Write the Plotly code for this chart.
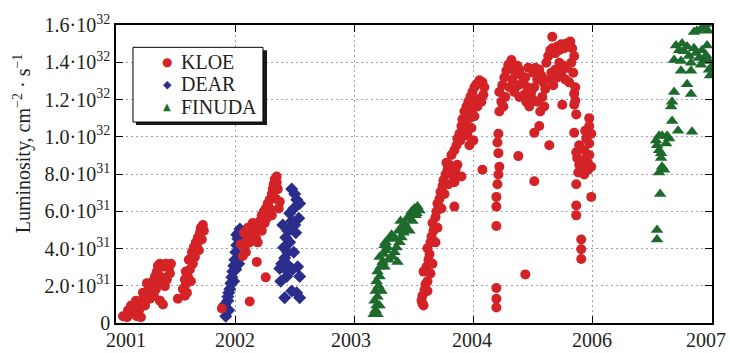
import plotly.graph_objects as go

# Time coordinate along the run axis (0 = start of 2001, 5 = right end), luminosity in 1e31 cm^-2 s^-1
axis_ticks = [0, 1, 2, 3, 4, 5]
axis_years = ["2001", "2002", "2003", "2004", "2006", "2007"]

lum_ticks = [0, 2, 4, 6, 8, 10, 12, 14, 16]
lum_labels = ["0", "2.0·10<sup>31</sup>", "4.0·10<sup>31</sup>", "6.0·10<sup>31</sup>",
              "8.0·10<sup>31</sup>", "1.0·10<sup>32</sup>", "1.2·10<sup>32</sup>",
              "1.4·10<sup>32</sup>", "1.6·10<sup>32</sup>"]

kloe_t = [
    # 2001
    0.092, 0.117, 0.142, 0.101, 0.159, 0.176, 0.193, 0.201, 0.218, 0.235, 0.251, 0.268, 0.243, 0.209,
    0.126, 0.168, 0.226, 0.059, 0.260, 0.276,
    0.285, 0.302, 0.293, 0.310, 0.327, 0.343, 0.352, 0.369, 0.394, 0.419, 0.444, 0.452, 0.427, 0.385,
    0.360, 0.335, 0.318, 0.369, 0.394, 0.410, 0.461,
    0.519, 0.561, 0.595, 0.586, 0.603, 0.620, 0.611, 0.637, 0.653, 0.670, 0.687, 0.704, 0.712, 0.729,
    0.737, 0.695, 0.662, 0.645, 0.628, 0.578, 0.678, 0.720, 0.586, 0.578,
    # 2002
    0.888, 1.181, 1.256, 1.122, 1.064, 1.080, 1.097, 1.114, 1.139, 1.164, 1.189, 1.072, 1.122, 1.173,
    1.206, 1.223, 1.240, 1.256, 1.273, 1.290, 1.307, 1.315, 1.323, 1.332, 1.348, 1.357, 1.340, 1.365,
    1.307, 1.248, 1.223, 1.189, 1.106, 1.147, 1.265, 1.290, 1.374, 1.089, 1.047, 1.348,
    # 2003
    2.563, 2.571, 2.588, 2.596, 2.613, 2.580, 2.605, 2.621, 2.630, 2.613, 2.638, 2.647, 2.663, 2.655,
    2.680, 2.688, 2.697, 2.714, 2.722, 2.739, 2.747, 2.764, 2.781, 2.797, 2.772, 2.814, 2.831, 2.789,
    2.756, 2.839, 2.730, 2.697, 2.680, 2.655, 2.638, 2.613, 2.580, 2.848, 2.839, 2.571, 2.814, 2.839,
    2.898, 2.864,
    2.856, 2.864, 2.881, 2.898, 2.906, 2.923, 2.940, 2.956, 2.973, 2.990, 3.007, 3.023, 3.049, 3.074,
    3.090, 3.082, 3.049, 3.015, 2.982, 2.965, 2.931, 2.906, 2.948, 2.982, 3.007, 3.032, 3.065, 2.965,
    2.998, 2.889, 3.074,
    # 2004
    3.208, 3.200, 3.208, 3.216, 3.208, 3.200, 3.191, 3.191, 3.191, 3.191, 3.191, 3.191, 3.375, 3.434,
    3.216, 3.233, 3.216, 3.241, 3.258, 3.275, 3.291, 3.317, 3.333, 3.350, 3.367, 3.384, 3.400, 3.417,
    3.434, 3.451, 3.425, 3.384, 3.342, 3.300, 3.266, 3.250, 3.325, 3.375, 3.442, 3.467, 3.484, 3.509,
    3.534, 3.518, 3.501, 3.551, 3.568, 3.585, 3.601, 3.576, 3.534, 3.593, 3.559, 3.492, 3.459,
    # 2005
    3.610, 3.626, 3.643, 3.660, 3.685, 3.702, 3.719, 3.735, 3.760, 3.777, 3.794, 3.811, 3.827, 3.844,
    3.819, 3.786, 3.752, 3.719, 3.685, 3.652, 3.635, 3.668, 3.702, 3.735, 3.769, 3.802, 3.836, 3.853,
    3.660,
    3.744, 3.551, 3.509, 3.635, 3.509,
    3.844, 3.844, 3.861, 3.844, 3.970, 3.970, 3.945, 3.861, 3.869, 3.911, 3.953, 3.987, 3.861, 3.987,
    3.861, 3.861, 3.903, 3.903, 3.903, 3.886, 3.928, 3.970, 3.920, 3.886, 3.961, 3.936, 3.987, 3.970,
    3.878, 3.928, 3.853,
]
kloe_lum = [
    # 2001
    0.31, 0.47, 0.57, 0.68, 0.78, 0.36, 0.68, 0.99, 1.20, 1.35, 1.56, 1.77, 0.94, 0.31,
    0.94, 1.20, 1.62, 0.36, 2.14, 1.98,
    1.30, 1.62, 1.93, 2.24, 2.50, 2.76, 3.07, 3.18, 3.02, 3.18, 2.97, 2.66, 2.34, 2.45,
    2.14, 1.82, 1.46, 1.20, 0.99, 1.98, 3.18,
    1.30, 1.82, 1.62, 2.08, 2.50, 2.87, 3.39, 3.80, 4.06, 4.33, 4.59, 4.85, 5.11, 5.26,
    4.95, 3.91, 3.54, 3.18, 2.24, 2.34, 4.22, 4.48, 2.76, 1.46,
    # 2002
    0.78, 3.28, 2.45, 1.15, 3.60, 4.06, 4.43, 4.74, 4.95, 5.05, 5.16, 4.85, 4.33, 4.59,
    5.47, 5.78, 5.99, 6.15, 6.41, 6.62, 6.93, 7.19, 7.45, 7.71, 7.56, 7.19, 6.67, 6.15,
    5.78, 5.37, 4.95, 4.33, 5.11, 5.37, 5.63, 6.15, 6.51, 3.80, 4.22, 7.87,
    # 2003
    1.20, 1.46, 1.77, 2.08, 2.24, 2.76, 3.02, 3.39, 3.70, 4.01, 4.33, 4.64, 4.95, 5.37,
    5.68, 5.99, 6.41, 6.67, 7.03, 7.35, 7.66, 7.97, 8.23, 8.49, 8.60, 8.08, 7.87, 7.45,
    6.93, 7.56, 6.15, 5.11, 4.33, 3.18, 2.66, 1.72, 0.94, 8.23, 6.25, 1.04, 9.02, 9.28,
    7.87, 8.49,
    9.54, 9.90, 10.16, 10.58, 10.94, 11.36, 11.62, 11.88, 12.14, 12.40, 12.66, 12.82, 13.03, 12.92,
    12.66, 12.25, 12.04, 11.72, 11.36, 11.00, 10.68, 10.32, 10.06, 10.47, 11.10, 11.62, 11.88, 9.54,
    9.80, 9.80, 8.23,
    # 2004
    10.16, 9.69, 9.12, 8.39, 7.97, 7.45, 6.77, 6.25, 5.21, 1.88, 1.30, 0.83, 8.96, 2.61,
    11.36, 11.88, 12.40, 12.77, 13.18, 13.55, 13.86, 14.12, 13.70, 13.44, 13.81, 13.60, 13.29, 12.92,
    13.18, 12.66, 12.25, 12.14, 12.40, 12.66, 12.14, 11.62, 13.08, 12.77, 11.88, 11.62, 12.40, 12.66,
    13.08, 13.70, 13.44, 13.60, 13.29, 12.92, 12.56, 12.14, 11.88, 11.62, 11.36, 12.04, 13.70,
    # 2005
    13.97, 14.33, 14.64, 14.75, 14.49, 14.85, 14.64, 14.96, 14.75, 15.01, 14.85, 15.11, 14.75, 14.33,
    13.97, 13.70, 13.81, 13.97, 13.60, 13.44, 13.08, 12.77, 13.18, 13.39, 13.08, 12.92, 13.44, 12.66,
    15.37,
    11.72, 10.58, 10.21, 9.54, 7.61,
    12.30, 11.72, 11.20, 10.21, 11.00, 10.58, 9.90, 9.17, 8.86, 8.34, 8.65, 8.39, 7.45, 6.77,
    6.31, 5.78, 4.48, 3.96, 3.44, 9.54, 9.28, 9.02, 8.75, 8.49, 8.23, 10.32, 10.16, 9.64,
    8.08, 7.97, 11.93,
]

dear_t = [
    0.921, 0.930, 0.938, 0.946, 0.955, 0.938, 0.963, 0.972, 0.980, 0.988, 0.997, 1.005, 1.013, 1.022,
    1.030, 1.039, 1.013, 1.030, 1.039, 1.005, 0.988, 0.913, 0.946,
    1.474, 1.499, 1.516, 1.491, 1.457, 1.474, 1.499, 1.441, 1.424, 1.457, 1.407, 1.441, 1.415, 1.390,
    1.449, 1.482, 1.524, 1.508, 1.533, 1.541, 1.432, 1.382, 1.541, 1.474, 1.415, 1.516, 1.541, 1.399,
    1.466, 1.491, 1.424, 1.374,
]
dear_lum = [
    0.36, 0.78, 1.20, 1.62, 1.82, 1.41, 2.14, 2.45, 2.76, 3.07, 3.39, 3.80, 4.17, 4.53,
    4.85, 5.05, 4.74, 3.18, 3.54, 2.87, 2.24, 0.99, 0.68,
    7.19, 6.93, 6.62, 6.15, 5.89, 5.47, 5.26, 4.95, 4.59, 4.33, 4.06, 3.80, 3.49, 3.18,
    3.07, 2.87, 3.02, 4.85, 5.63, 6.41, 2.50, 2.24, 2.50, 1.72, 1.35, 1.62, 1.35, 5.26,
    5.05, 3.80, 2.87, 2.92,
]

finuda_t = [
    # 2003
    2.161, 2.178, 2.194, 2.186, 2.169, 2.194, 2.178, 2.203, 2.186, 2.211, 2.194, 2.219, 2.236, 2.211,
    2.245, 2.261, 2.278, 2.261, 2.295, 2.312, 2.286, 2.320, 2.337, 2.362, 2.353, 2.379, 2.395, 2.370,
    2.404, 2.420, 2.446, 2.462, 2.479, 2.504, 2.529, 2.546, 2.513, 2.487, 2.437, 2.412, 2.387, 2.253,
    2.228, 2.211, 2.253, 2.345, 2.462, 2.521,
    # 2006-2007
    4.539, 4.539, 4.565, 4.556, 4.531, 4.539, 4.556, 4.573, 4.581, 4.598, 4.640, 4.615, 4.581, 4.556,
    4.623, 4.573, 4.665, 4.657, 4.665, 4.682, 4.715, 4.832, 4.740, 4.791, 4.824, 4.824,
    4.698, 4.724, 4.749, 4.765, 4.791, 4.807, 4.849, 4.866, 4.891, 4.916, 4.950, 4.958, 4.975, 4.975,
    4.682, 4.740, 4.824, 4.908, 4.933,
    4.849, 4.874, 4.908, 4.933, 4.950, 4.966, 4.992, 4.983,
]
finuda_lum = [
    # 2003
    0.47, 0.68, 0.47, 0.94, 1.20, 1.41, 1.72, 1.98, 2.24, 2.50, 2.76, 3.02, 3.28, 3.54,
    3.70, 3.91, 4.06, 4.33, 4.53, 4.74, 3.39, 3.54, 3.80, 3.28, 4.06, 4.33, 4.59, 4.95,
    5.16, 5.37, 5.63, 5.78, 5.99, 6.15, 6.25, 6.04, 5.78, 5.47, 5.11, 4.85, 5.47, 3.02,
    1.72, 0.94, 4.17, 4.53, 4.95, 5.89,
    # 2006-2007
    5.00, 4.48, 6.93, 8.08, 9.80, 9.54, 9.28, 8.86, 8.39, 8.23, 9.90, 9.64, 10.06, 10.06,
    10.06, 9.12, 10.84, 11.62, 11.88, 12.40, 10.32, 10.27, 13.55, 12.82, 13.55, 12.30,
    14.90, 14.64, 15.01, 14.59, 14.85, 14.33, 14.75, 14.49, 14.23, 14.64, 14.38, 14.90, 14.07, 13.60,
    14.12, 14.07, 13.97, 13.86, 14.12,
    15.63, 15.69, 15.79, 15.89, 16.05, 15.69, 13.70, 13.29,
]

RED = "#d42326"
BLUE = "#2b2d8c"
GREEN = "#1e6a2c"
SERIF = "Liberation Serif, Times New Roman, serif"
INK = "#231f20"

fig = go.Figure()
fig.add_trace(go.Scatter(x=dear_t, y=dear_lum, mode="markers", name="DEAR", showlegend=False,
                         marker=dict(symbol="diamond", size=10, color=BLUE, line=dict(width=0))))
fig.add_trace(go.Scatter(x=kloe_t, y=kloe_lum, mode="markers", name="KLOE", showlegend=False,
                         marker=dict(symbol="circle", size=10, color=RED, line=dict(width=0))))
fig.add_trace(go.Scatter(x=finuda_t, y=finuda_lum, mode="markers", name="FINUDA", showlegend=False,
                         marker=dict(symbol="triangle-up", size=11, color=GREEN, line=dict(width=0))))

grid = dict(showgrid=True, gridcolor="#9a9fbe", gridwidth=1, griddash="2px,3px",
            showline=True, linecolor="black", linewidth=1.5, mirror="ticks",
            ticks="inside", ticklen=7, tickcolor="black", tickwidth=1.2, zeroline=False)

fig.update_xaxes(range=[0, 5], tickvals=axis_ticks, showticklabels=False, **grid)
fig.update_yaxes(range=[0, 16], tickvals=lum_ticks, ticktext=lum_labels,
                 tickfont=dict(family=SERIF, size=20, color=INK), **grid)

annotations = []
# year labels under the time axis
year_shift = [10, 0, -3, -2, -1, -6]
for t, lab, dx in zip(axis_ticks, axis_years, year_shift):
    annotations.append(dict(x=t, y=0, xref="x", yref="paper", text=lab, showarrow=False,
                            xshift=dx, yshift=-17, yanchor="middle", xanchor="center",
                            font=dict(family=SERIF, size=20, color=INK)))
# y-axis title
annotations.append(dict(x=0, y=0.603, xref="paper", yref="paper", xshift=-94, textangle=-90,
                        text="Luminosity, cm<sup>−2</sup> · s<sup>−1</sup>", showarrow=False,
                        xanchor="center", yanchor="middle",
                        font=dict(family=SERIF, size=20, color=INK)))

# legend box with drop shadow
shapes = [
    dict(type="rect", xref="paper", yref="paper", x0=0.0336, x1=0.2534, y0=0.6645, y1=0.9153,
         fillcolor="#1a1a1a", line=dict(width=0), layer="above"),
    dict(type="rect", xref="paper", yref="paper", x0=0.0285, x1=0.2466, y0=0.6743, y1=0.9251,
         fillcolor="white", line=dict(color="black", width=1), layer="above"),
]
legend_rows = [("KLOE", "●", RED, 12, 0.876), ("DEAR", "◆", BLUE, 11, 0.801),
               ("FINUDA", "▲", GREEN, 10, 0.726)]
for name, glyph, col, gsize, ypos in legend_rows:
    annotations.append(dict(x=0.0856, y=ypos, xref="paper", yref="paper", text=glyph,
                            showarrow=False, xanchor="center", yanchor="middle",
                            font=dict(family="DejaVu Sans", size=gsize, color=col)))
    annotations.append(dict(x=0.1057, y=ypos, xref="paper", yref="paper", text=name,
                            showarrow=False, xanchor="left", yanchor="middle",
                            font=dict(family=SERIF, size=20, color=INK)))

fig.update_layout(width=730, height=353, margin=dict(l=116, r=18, t=16, b=30),
                  paper_bgcolor="white", plot_bgcolor="white", showlegend=False,
                  shapes=shapes, annotations=annotations)

fig.write_html("out.html")
